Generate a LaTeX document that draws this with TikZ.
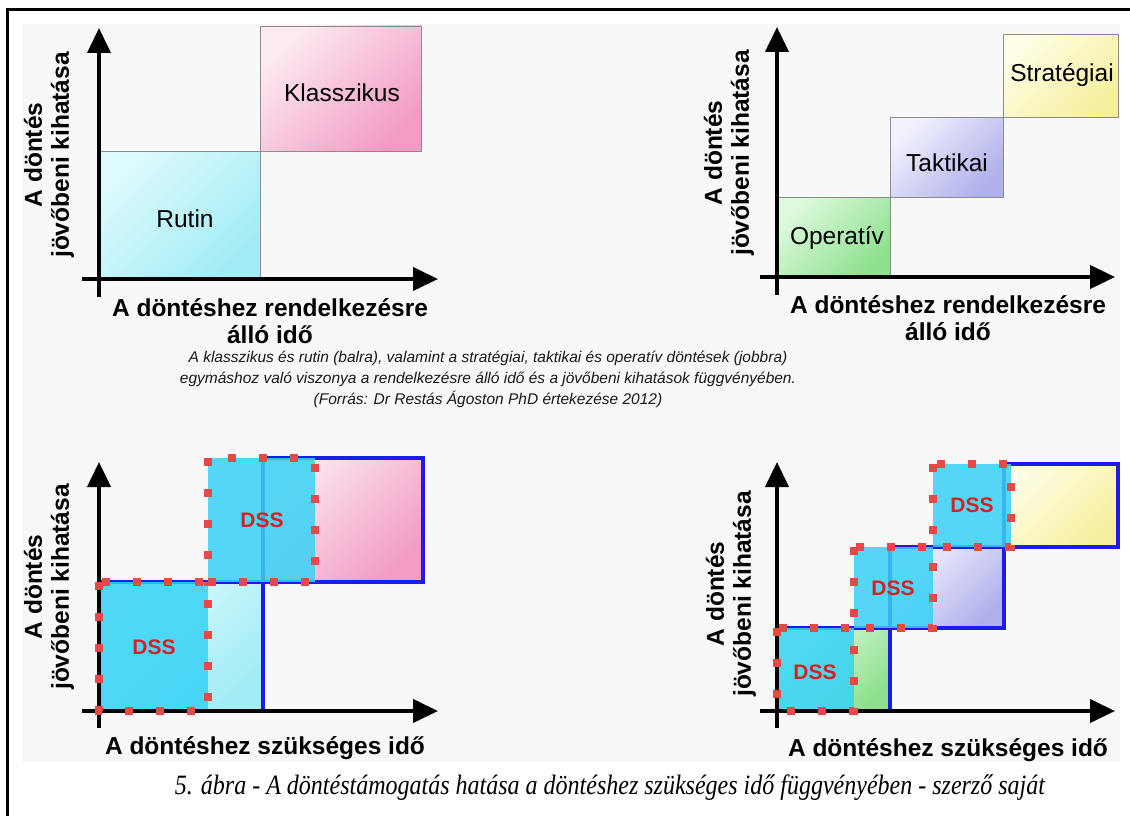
\documentclass[tikz,border=0pt]{standalone}
\usepackage{fontspec}
\usepackage{graphicx}
\usetikzlibrary{arrows.meta}
\newfontfamily\arialfont{Liberation Sans}
\newfontfamily\serifcapfont{Liberation Serif}

\definecolor{panelbg}{HTML}{F8F8F8}
\definecolor{rutinA}{HTML}{DDFAFD}
\definecolor{rutinB}{HTML}{A2ECF5}
\definecolor{klassA}{HTML}{FCEAF2}
\definecolor{klassB}{HTML}{F29CC4}
\definecolor{operA}{HTML}{DDFADD}
\definecolor{operB}{HTML}{8EE08E}
\definecolor{taktA}{HTML}{F2F2FD}
\definecolor{taktB}{HTML}{B0B0EC}
\definecolor{stratA}{HTML}{FEFDE6}
\definecolor{stratB}{HTML}{F6F09E}
\definecolor{boxblue}{HTML}{1C1CE8}
\definecolor{dsscyan}{HTML}{38D2F6}
\definecolor{dotred}{HTML}{E84848}
\definecolor{dssred}{HTML}{D42222}

\tikzset{
  axisline/.style={line width=4pt, -{Triangle[length=25pt,width=23pt]}},
  thinbox/.style={draw=black!45, line width=0.8pt},
  bluebox/.style={draw=boxblue, line width=3.5pt},
  dssfill/.style={fill=dsscyan, fill opacity=0.85},
  dssdots/.style={draw=dotred, line width=8pt, dash pattern=on 8pt off 23pt},
  boxlbl/.style={font=\arialfont\fontsize{24.5}{28}\selectfont, inner sep=0pt},
  axlbl/.style={font=\arialfont\bfseries\fontsize{24.5}{27}\selectfont, align=center, inner sep=0pt},
  dsslbl/.style={font=\arialfont\bfseries\fontsize{21}{24}\selectfont, text=dssred, inner sep=0pt},
  capmid/.style={font=\arialfont\itshape\fontsize{15.5}{21}\selectfont, text=black!90, align=center, inner sep=0pt},
  shadeTL/.style 2 args={top color=#1, bottom color=#2, shading angle=45},
}

\begin{document}
\begin{tikzpicture}[x=1pt,y=-1pt]
\useasboundingbox (0,0) rectangle (1130,816);
\fill[white] (0,0) rectangle (1130,816);
% light panel behind the four charts
\fill[panelbg] (22,24) rectangle (1120,762);
% outer frame
\draw[line width=3pt] (7,830) -- (7,10) -- (1140,10);

% ---------- top left: Rutin / Klasszikus ----------
\path[shadeTL={rutinA}{rutinB}] (99,151) rectangle (260,279);
\draw[thinbox] (99,151) rectangle (260,279);
\path[shadeTL={klassA}{klassB}] (260,26) rectangle (421,151);
\draw[thinbox] (260,26) rectangle (421,151);
\node[boxlbl] (rutin) at (185,219) {Rutin};
\node[boxlbl] (klassz) at (342,93) {Klasszikus};
\coordinate (tlY0) at (99,297); \coordinate (tlY1) at (99,28);
\coordinate (tlX0) at (82,279); \coordinate (tlX1) at (438,279);
\draw[axisline] (tlY0) -- (tlY1);
\draw[axisline] (tlX0) -- (tlX1);
\node[axlbl, rotate=90] (tlylab) at (49,155) {A döntés\\jövőbeni kihatása};
\node[axlbl] (tlxlab) at (270,321) {A döntéshez rendelkezésre\\álló idő};

% ---------- top right: Operatív / Taktikai / Stratégiai ----------
\path[shadeTL={operA}{operB}] (777,197) rectangle (890,277);
\draw[thinbox] (777,197) rectangle (890,277);
\path[shadeTL={taktA}{taktB}] (890,117) rectangle (1003,197);
\draw[thinbox] (890,117) rectangle (1003,197);
\path[shadeTL={stratA}{stratB}] (1003,34) rectangle (1118,117);
\draw[thinbox] (1003,34) rectangle (1118,117);
\node[boxlbl] (operativ) at (837,238) {Operatív};
\node[boxlbl] (taktikai) at (947,163) {Taktikai};
\node[boxlbl] (strat) at (1062,75) {Stratégiai};
\coordinate (trY0) at (777,295); \coordinate (trY1) at (777,27);
\coordinate (trX0) at (760,277); \coordinate (trX1) at (1115,277);
\draw[axisline] (trY0) -- (trY1);
\draw[axisline] (trX0) -- (trX1);
\node[axlbl, rotate=90] (trylab) at (729,153) {A döntés\\jövőbeni kihatása};
\node[axlbl] (trxlab) at (948,318) {A döntéshez rendelkezésre\\álló idő};

% ---------- middle caption ----------
\node[capmid] (midcap) at (488,379) {A klasszikus és rutin (balra), valamint a stratégiai, taktikai és operatív döntések (jobbra)\\egymáshoz való viszonya a rendelkezésre álló idő és a jövőbeni kihatások függvényében.\\(Forrás: Dr Restás Ágoston PhD értekezése 2012)};

% ---------- bottom left: DSS over Rutin / Klasszikus ----------
\path[shadeTL={rutinA}{rutinB}] (99,582) rectangle (263,711);
\path[shadeTL={klassA}{klassB}] (263,458) rectangle (423,582);
\draw[bluebox] (99,582) rectangle (263,711);
\draw[bluebox] (263,458) rectangle (423,582);
\fill[dssfill] (99,582) rectangle (208,711);
\fill[dssfill] (208,458) rectangle (315,582);
\coordinate (blY0) at (99,728); \coordinate (blY1) at (99,462);
\coordinate (blX0) at (82,711); \coordinate (blX1) at (438,711);
\draw[axisline] (blY0) -- (blY1);
\draw[axisline] (blX0) -- (blX1);
\draw[dssdots] (99,582) rectangle (208,711);
\draw[dssdots] (208,458) rectangle (315,582);
\node[dsslbl] (bldss1) at (154,647) {DSS};
\node[dsslbl] (bldss2) at (262,520) {DSS};
\node[axlbl, rotate=90] (blylab) at (49,587) {A döntés\\jövőbeni kihatása};
\node[axlbl] (blxlab) at (265,748) {A döntéshez szükséges idő};

% ---------- bottom right: DSS over Operatív / Taktikai / Stratégiai ----------
\path[shadeTL={operA}{operB}] (777,628) rectangle (890,711);
\path[shadeTL={taktA}{taktB}] (890,547) rectangle (1004,628);
\path[shadeTL={stratA}{stratB}] (1004,464) rectangle (1118,547);
\draw[bluebox] (777,628) rectangle (890,711);
\draw[bluebox] (890,547) rectangle (1004,628);
\draw[bluebox] (1004,464) rectangle (1118,547);
\fill[dssfill] (777,628) rectangle (854,711);
\fill[dssfill] (854,547) rectangle (933,628);
\fill[dssfill] (933,464) rectangle (1011,547);
\coordinate (brY0) at (777,728); \coordinate (brY1) at (777,462);
\coordinate (brX0) at (760,711); \coordinate (brX1) at (1115,711);
\draw[axisline] (brY0) -- (brY1);
\draw[axisline] (brX0) -- (brX1);
\draw[dssdots] (777,628) rectangle (854,711);
\draw[dssdots] (854,547) rectangle (933,628);
\draw[dssdots] (933,464) rectangle (1011,547);
\node[dsslbl] (brdss1) at (815,672) {DSS};
\node[dsslbl] (brdss2) at (893,588) {DSS};
\node[dsslbl] (brdss3) at (972,505) {DSS};
\node[axlbl, rotate=90] (brylab) at (731,594) {A döntés\\jövőbeni kihatása};
\node[axlbl] (brxlab) at (948,750) {A döntéshez szükséges idő};

% ---------- figure caption ----------
\node[inner sep=0pt] (figcap) at (610,788) {\resizebox{870pt}{\height}{\serifcapfont\itshape\fontsize{28}{30}\selectfont 5. ábra - A döntéstámogatás hatása a döntéshez szükséges idő függvényében - szerző saját}};
\end{tikzpicture}
\end{document}
